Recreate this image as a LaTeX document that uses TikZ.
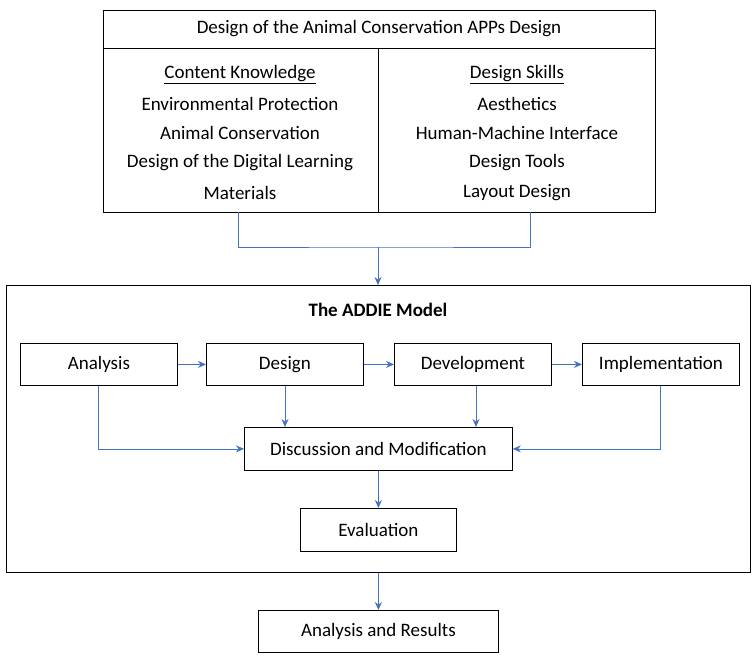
\documentclass[tikz,border=0pt]{standalone}
\usepackage{fontspec}
\setmainfont{Carlito}
\usetikzlibrary{arrows.meta}
\definecolor{ab}{RGB}{68,114,196}
\begin{document}
\begin{tikzpicture}[x=1pt,y=-1pt,
  box/.style={draw,line width=0.8pt,minimum width=157pt,minimum height=42pt,anchor=north west,font=\fontsize{19}{22}\selectfont},
  txt/.style={font=\fontsize{19}{22}\selectfont},
  arr/.style={ab,line width=0.8pt,-{Stealth[length=8pt,width=7pt]}},
  ln/.style={ab,line width=0.8pt}]
\useasboundingbox (0,0) rectangle (756,662);
\node[draw,line width=0.8pt,minimum width=552pt,minimum height=202pt,anchor=north west] (top) at (103,10) {};
\draw[line width=0.8pt] (103,48) -- (655,48);
\draw[line width=0.8pt] (378,48) -- (378,212);
\node[txt] (h) at (379,29) {Design of the Animal Conservation APPs Design};
\node[txt] (l1) at (240,75) {\underline{Content Knowledge}};
\node[txt] (l2) at (240,104) {Environmental Protection};
\node[txt] (l3) at (240,133) {Animal Conservation};
\node[txt] (l4) at (240,163) {Design of the Digital Learning};
\node[txt] (l5) at (240,193) {Materials};
\node[txt] (r1) at (517,75) {\underline{Design Skills}};
\node[txt] (r2) at (517,104) {Aesthetics};
\node[txt] (r3) at (517,133) {Human-Machine Interface};
\node[txt] (r4) at (517,163) {Design Tools};
\node[txt] (r5) at (517,193) {Layout Design};
\coordinate (ta) at (238,212);
\coordinate (tb) at (530,212);
\coordinate (tm) at (378,247);
\node[draw,line width=1.4pt,minimum width=744pt,minimum height=287pt,anchor=north west] (big) at (6,285) {};
\node[txt,font=\bfseries\fontsize{19}{22}\selectfont] (title) at (378,310) {The ADDIE Model};
\node[box] (an) at (20,343) {Analysis};
\node[box] (de) at (206,343) {Design};
\node[box] (dv) at (394,343) {Development};
\node[box] (im) at (582,343) {Implementation};
\node[box,minimum width=268pt,minimum height=43pt] (dm) at (244,427) {Discussion and Modification};
\node[box,minimum width=156pt,minimum height=43pt] (ev) at (300,508) {Evaluation};
\node[box,minimum width=240pt,minimum height=42pt] (ar) at (258,610) {Analysis and Results};
\draw[ln] (ta) |- (tm) -| (tb);
\draw[arr] (tm) -- (big.north -| tm);
\draw[arr] (an) -- (de);
\draw[arr] (de) -- (dv);
\draw[arr] (dv) -- (im);
\draw[arr] (de.south -| 285,0) -- (dm.north -| 285,0);
\draw[arr] (dv.south -| 476,0) -- (dm.north -| 476,0);
\draw[arr] (an.south -| 98,0) |- (dm.west);
\draw[arr] (im.south -| 660,0) |- (dm.east);
\draw[arr] (dm.south -| ev.north) -- (ev.north);
\draw[arr] (big.south -| ar.north) -- (ar.north);
\end{tikzpicture}
\end{document}
